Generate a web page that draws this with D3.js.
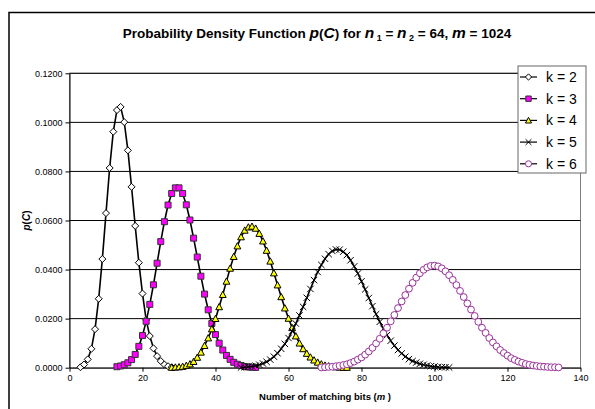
<!DOCTYPE html>
<html>
<head>
<meta charset="utf-8">
<script src="https://cdn.jsdelivr.net/npm/d3@7"></script>
<style>
  body { margin: 0; background: #fff; }
  text { font-family: Arial, "Liberation Sans", sans-serif; }
</style>
</head>
<body>
<div id="chart"></div>
<script>
// series data (m starts at the given value, step 1)
const seriesNames = ["k = 2", "k = 3", "k = 4", "k = 5", "k = 6"];

const k2Start = 3;
const k2Values = [0.0002, 0.0013, 0.0034, 0.0077, 0.0157, 0.0281, 0.0443, 0.0630, 0.0814, 0.0962,
  0.1050, 0.1063, 0.1001, 0.0886, 0.0737, 0.0578, 0.0428, 0.0302, 0.0195, 0.0129,
  0.0079, 0.0047, 0.0027, 0.0013, 0.0006, 0.0002];

const k3Start = 13;
const k3Values = [0.0004, 0.0007, 0.0012, 0.0020, 0.0033, 0.0054, 0.0087, 0.0131, 0.0189, 0.0258,
  0.0338, 0.0426, 0.0514, 0.0595, 0.0663, 0.0710, 0.0733, 0.0733, 0.0710, 0.0664,
  0.0602, 0.0528, 0.0451, 0.0373, 0.0300, 0.0236, 0.0180, 0.0135, 0.0100, 0.0072,
  0.0050, 0.0034, 0.0022, 0.0014, 0.0009, 0.0005, 0.0003, 0.0002, 0.0001];

const k4Start = 28;
const k4Values = [0.0001, 0.0002, 0.0003, 0.0005, 0.0009, 0.0015, 0.0025, 0.0042, 0.0063, 0.0090,
  0.0121, 0.0158, 0.0200, 0.0248, 0.0298, 0.0352, 0.0405, 0.0453, 0.0496, 0.0533,
  0.0560, 0.0573, 0.0576, 0.0568, 0.0547, 0.0516, 0.0478, 0.0434, 0.0386, 0.0337,
  0.0289, 0.0243, 0.0201, 0.0163, 0.0129, 0.0100, 0.0077, 0.0058, 0.0043, 0.0031,
  0.0022, 0.0015, 0.0010, 0.0007, 0.0005, 0.0003, 0.0002, 0.0001, 0.0001];

const k5Start = 47;
const k5Values = [0.0001, 0.0002, 0.0004, 0.0005, 0.0008, 0.0012, 0.0017, 0.0024, 0.0033, 0.0045,
  0.0059, 0.0077, 0.0097, 0.0121, 0.0149, 0.0180, 0.0213, 0.0248, 0.0285, 0.0321,
  0.0357, 0.0390, 0.0419, 0.0444, 0.0463, 0.0476, 0.0482, 0.0481, 0.0473, 0.0459,
  0.0438, 0.0413, 0.0384, 0.0352, 0.0319, 0.0284, 0.0251, 0.0218, 0.0187, 0.0159,
  0.0133, 0.0110, 0.0090, 0.0072, 0.0058, 0.0045, 0.0035, 0.0027, 0.0021, 0.0016,
  0.0012, 0.0009, 0.0006, 0.0005, 0.0003, 0.0002, 0.0002, 0.0001];

const k6Start = 69;
const k6Values = [0.0001, 0.0002, 0.0003, 0.0004, 0.0006, 0.0008, 0.0011, 0.0014, 0.0019, 0.0025,
  0.0033, 0.0042, 0.0053, 0.0066, 0.0081, 0.0099, 0.0118, 0.0140, 0.0163, 0.0189,
  0.0215, 0.0243, 0.0270, 0.0296, 0.0322, 0.0346, 0.0367, 0.0385, 0.0399, 0.0409,
  0.0415, 0.0416, 0.0413, 0.0405, 0.0393, 0.0377, 0.0358, 0.0337, 0.0313, 0.0288,
  0.0262, 0.0237, 0.0211, 0.0187, 0.0163, 0.0142, 0.0121, 0.0103, 0.0087, 0.0072,
  0.0060, 0.0049, 0.0039, 0.0032, 0.0025, 0.0020, 0.0015, 0.0012, 0.0009, 0.0007,
  0.0005, 0.0004, 0.0003, 0.0002, 0.0002, 0.0001];

const xTicks = [0, 20, 40, 60, 80, 100, 120, 140];
const yTicks = [0, 0.02, 0.04, 0.06, 0.08, 0.10, 0.12];

// set up SVG size
const svgWidth = 595;
const svgHeight = 409;

const margin = { top: 73.3, right: 14.5, bottom: 41.3, left: 69.5 };
const width = svgWidth - margin.left - margin.right;
const height = svgHeight - margin.top - margin.bottom;

const svg = d3.select("#chart")
  .append("svg")
  .attr("width", svgWidth)
  .attr("height", svgHeight);

// outer chart border (runs off the right and bottom edges)
svg.append("rect")
  .attr("x", 9).attr("y", 12.5)
  .attr("width", 620).attr("height", 420)
  .attr("fill", "#fff")
  .attr("stroke", "#000")
  .attr("stroke-width", 1.5);

// title
const title = svg.append("text")
  .attr("x", 317).attr("y", 38)
  .attr("text-anchor", "middle")
  .attr("font-size", 13.5).attr("font-weight", "bold");
title.append("tspan").text("Probability Density Function ");
title.append("tspan").attr("font-style", "italic").attr("font-size", 15.5).text("p");
title.append("tspan").text("(");
title.append("tspan").attr("font-style", "italic").attr("font-size", 15.5).text("C");
title.append("tspan").text(") for ");
title.append("tspan").attr("font-style", "italic").attr("font-size", 15.5).text("n");
title.append("tspan").attr("font-size", 9).attr("dy", 3).text(" 1");
title.append("tspan").attr("dy", -3).text(" = ");
title.append("tspan").attr("font-style", "italic").attr("font-size", 15.5).text("n");
title.append("tspan").attr("font-size", 9).attr("dy", 3).text(" 2");
title.append("tspan").attr("dy", -3).text(" = 64, ");
title.append("tspan").attr("font-style", "italic").attr("font-size", 15.5).text("m");
title.append("tspan").text("  = 1024");

const chartGroup = svg.append("g")
  .attr("transform", `translate(${margin.left}, ${margin.top})`);

// scales
const xScale = d3.scaleLinear().domain([0, 140]).range([0, width]);
const yScale = d3.scaleLinear().domain([0, 0.12]).range([height, 0]);

// plot area border (grey)
chartGroup.append("rect")
  .attr("width", width).attr("height", height)
  .attr("fill", "#fff")
  .attr("stroke", "#808080").attr("stroke-width", 1);

// gridlines
chartGroup.selectAll(".grid")
  .data(yTicks.slice(1))
  .join("line")
  .attr("class", "grid")
  .attr("x1", 0).attr("x2", width)
  .attr("y1", d => yScale(d)).attr("y2", d => yScale(d))
  .attr("stroke", "#000").attr("stroke-width", 1);

// axes
const bottomAxis = d3.axisBottom(xScale).tickValues(xTicks).tickSize(4).tickSizeOuter(0).tickPadding(3);
const leftAxis = d3.axisLeft(yScale).tickValues(yTicks).tickFormat(d3.format(".4f")).tickSize(4).tickSizeOuter(0).tickPadding(3);

const xAxisG = chartGroup.append("g")
  .attr("transform", `translate(0, ${height})`)
  .call(bottomAxis);
const yAxisG = chartGroup.append("g").call(leftAxis);

[xAxisG, yAxisG].forEach(g => {
  g.selectAll("text").attr("font-size", 9).attr("fill", "#000")
    .attr("font-family", "Arial, 'Liberation Sans', sans-serif");
  g.selectAll("line").attr("stroke", "#000");
  g.select(".domain").attr("stroke", "#000");
});

// axis titles
const xTitle = chartGroup.append("text")
  .attr("x", width / 2).attr("y", height + 32)
  .attr("text-anchor", "middle")
  .attr("font-size", 9.5).attr("font-weight", "bold");
xTitle.append("tspan").text("Number of matching bits (");
xTitle.append("tspan").attr("font-style", "italic").text("m");
xTitle.append("tspan").text(" )");

const yTitle = chartGroup.append("text")
  .attr("transform", `translate(${29.5 - margin.left}, ${height / 2}) rotate(-90)`)
  .attr("text-anchor", "middle")
  .attr("font-size", 10).attr("font-weight", "bold");
yTitle.append("tspan").attr("font-style", "italic").text("p");
yTitle.append("tspan").text("(");
yTitle.append("tspan").attr("font-style", "italic").text("C");
yTitle.append("tspan").text(")");

// marker shapes
const markerPath = {
  diamond: s => `M0,${-s}L${s},0L0,${s}L${-s},0Z`,
  square: s => `M${-s},${-s}H${s}V${s}H${-s}Z`,
  triangle: s => `M0,${-s}L${s},${s * 0.85}H${-s}Z`,
  cross: s => `M${-s},${-s}L${s},${s}M${s},${-s}L${-s},${s}`,
  circle: s => `M${s},0A${s},${s} 0 1,1 ${-s},0A${s},${s} 0 1,1 ${s},0Z`
};

const series = [
  { name: seriesNames[0], start: k2Start, values: k2Values, shape: "diamond", size: 3.5, fill: "#fff", stroke: "#000", line: "#000" },
  { name: seriesNames[1], start: k3Start, values: k3Values, shape: "square", size: 3, fill: "#ff00ff", stroke: "#333", line: "#000" },
  { name: seriesNames[2], start: k4Start, values: k4Values, shape: "triangle", size: 3.4, fill: "#ffff00", stroke: "#000", line: "#000" },
  { name: seriesNames[3], start: k5Start, values: k5Values, shape: "cross", size: 3.2, fill: "none", stroke: "#000", line: "#000" },
  { name: seriesNames[4], start: k6Start, values: k6Values, shape: "circle", size: 3.4, fill: "#fff", stroke: "#993399", line: "#000" }
];

const lineGen = d3.line()
  .x(d => xScale(d.m))
  .y(d => yScale(d.p));

series.forEach(s => {
  const pts = s.values.map((v, i) => ({ m: s.start + i, p: v }));
  const g = chartGroup.append("g");
  g.append("path")
    .datum(pts)
    .attr("d", lineGen)
    .attr("fill", "none")
    .attr("stroke", s.line)
    .attr("stroke-width", 1.6);
  g.selectAll("path.mk")
    .data(pts)
    .join("path")
    .attr("class", "mk")
    .attr("transform", d => `translate(${xScale(d.m)}, ${yScale(d.p)})`)
    .attr("d", markerPath[s.shape](s.size))
    .attr("fill", s.fill)
    .attr("stroke", s.stroke)
    .attr("stroke-width", 1);
});

// legend
const legend = svg.append("g").attr("transform", "translate(518, 66)");
legend.append("rect")
  .attr("width", 68).attr("height", 107)
  .attr("fill", "#fff")
  .attr("stroke", "#666").attr("stroke-width", 1);

const legendItem = legend.selectAll(".item")
  .data(series)
  .join("g")
  .attr("class", "item")
  .attr("transform", (d, i) => `translate(0, ${11 + i * 21.7})`);
legendItem.append("line")
  .attr("x1", 2).attr("x2", 19)
  .attr("stroke", d => d.line).attr("stroke-width", 1.2);
legendItem.append("path")
  .attr("transform", "translate(10.5, 0)")
  .attr("d", d => markerPath[d.shape](d.size * 0.9))
  .attr("fill", d => d.fill)
  .attr("stroke", d => d.stroke)
  .attr("stroke-width", 1);
legendItem.append("text")
  .attr("x", 28).attr("dy", "0.36em")
  .attr("font-size", 14)
  .text(d => d.name);
</script>
</body>
</html>
